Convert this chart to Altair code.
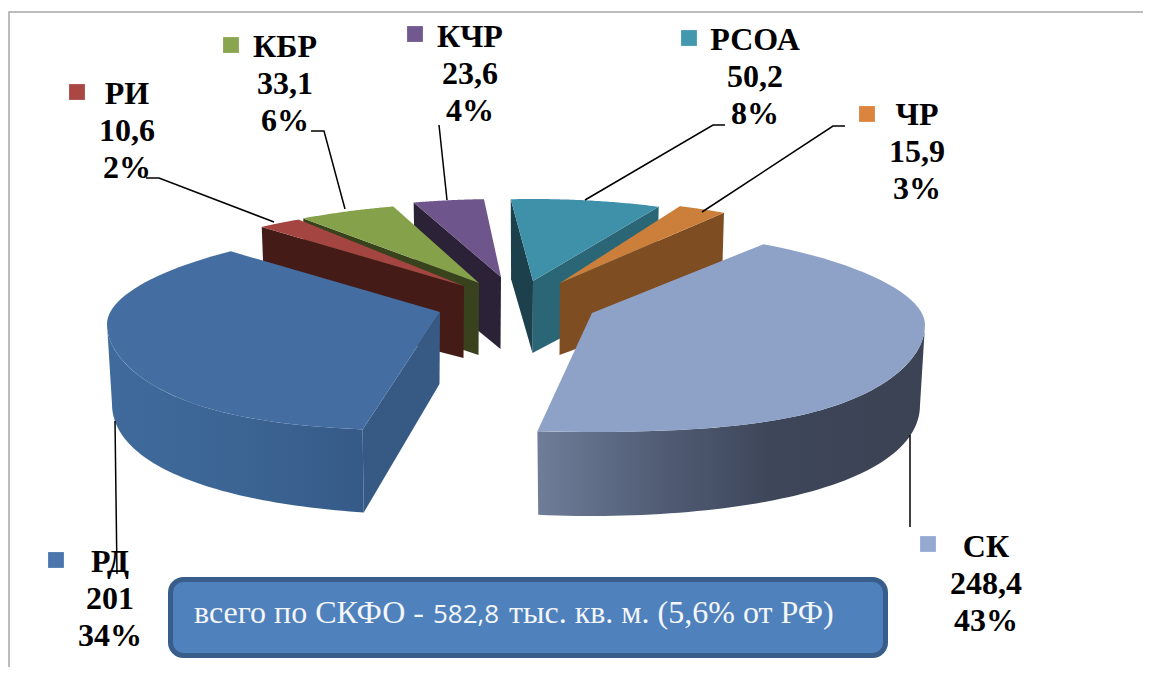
import math
import altair as alt
import pandas as pd

# ---- data ----
names = ["СК", "РД", "РИ", "КБР", "КЧР", "РСОА", "ЧР"]
values = [248.4, 201, 10.6, 33.1, 23.6, 50.2, 15.9]
value_labels = ["248,4", "201", "10,6", "33,1", "23,6", "50,2", "15,9"]
pct_labels = ["43%", "34%", "2%", "6%", "4%", "8%", "3%"]
note_parts = ["всего по СКФО - ", "582,8", "тыс. кв. м. (5,6% от РФ)"]

# ---- layout (pixel space of the picture) ----
W, H = 1151, 675
MARGIN = 8
START = 31.0
RX, RXB = 333, 328
RY_FRONT = 119
RYB_BACK, RYB_FRONT = 74, 131
DEPTH = 72

styles = {
    "СК":   dict(apex=(592, 313), w=(0, 5),      ry=84, top="#8ea2c8", key="#95a9d2", cut=[],
                 label=(986, 557), swatch=(928, 544), lead=[(910, 435), (910, 527)]),
    "РД":   dict(apex=(440, 312), w=(9, 12.5),   ry=84, top="#446da2", key="#4a76ad", cut=[(0, "#375a85")],
                 label=(110, 572), swatch=(56, 560), lead=[(115, 421), (117, 574)]),
    "РИ":   dict(apex=(464, 286), w=(14, 15),    ry=80, top="#a54542", key="#aa4643", cut=[(0, "#451b18")],
                 label=(127, 104), swatch=(77, 92), lead=[(146, 178), (159, 178), (274, 222)]),
    "КБР":  dict(apex=(479, 283), w=(13, 9.5),   ry=80, top="#85a14a", key="#89a54e", cut=[(0, "#38431d")],
                 label=(285, 57), swatch=(231, 45), lead=[(311, 131), (324, 131), (345, 209)]),
    "КЧР":  dict(apex=(501, 277), w=(9.2, 6.9),  ry=78, top="#6e558b", key="#71588f", cut=[(0, "#2c2238")],
                 label=(470, 47), swatch=(415, 34), lead=[(439, 125), (447, 200)]),
    "РСОА": dict(apex=(533, 281), w=(6, 1),      ry=82, top="#3f91aa", key="#4198af", cut=[(1, "#2a6675"), (0, "#1c404c")],
                 label=(755, 50), swatch=(689, 38), lead=[(725, 125), (713, 125), (585, 200)]),
    "ЧР":   dict(apex=(560, 283), w=(-0.1, -1.5), ry=84, top="#cc7f3a", key="#db843d", cut=[(1, "#7f4d22")],
                 label=(917, 125), swatch=(867, 114), lead=[(845, 126), (833, 126), (702, 212)]),
}
outer_walls = {
    "СК": (90, None, ["#6f7d99", "#525e76", "#3e465a", "#3b4253"], [0, 0.3, 0.6, 1]),
    "РД": (None, 270, ["#3f6a9b", "#3c6594", "#355a88"], [0, 0.5, 1]),
}
paint_order = ["РСОА", "ЧР", "СК", "КЧР", "КБР", "РИ", "РД"]
LINE_GAP = 37
FONT = "Liberation Serif"
FONT_SIZE = 32

PW, PH = W - 2 * MARGIN, H - 2 * MARGIN
x_scale = alt.Scale(domain=[MARGIN, W - MARGIN], range=[0, PW], nice=False, zero=False)
y_scale = alt.Scale(domain=[MARGIN, H - MARGIN], range=[0, PH], nice=False, zero=False)


def top_pt(apex, deg, ry_back):
    t = math.radians(deg)
    if math.cos(t) > 0:
        dy = -ry_back * math.cos(t)
    else:
        dy = -RY_FRONT * math.cos(t) + 5 * math.sin(2 * t) ** 2
    return apex[0] + RX * math.sin(t), apex[1] + 12 * math.sin(t) ** 2 + dy


def bot_pt(apex, deg, ry_back=None):
    t = math.radians(deg)
    ry = RYB_BACK if math.cos(t) > 0 else RYB_FRONT
    return apex[0] + RXB * math.sin(t), apex[1] + DEPTH + 20 * math.sin(t) ** 2 - ry * math.cos(t)


def arc(fn, apex, a, b, ry_back, steps=60):
    return [fn(apex, a + (b - a) * k / steps, ry_back) for k in range(steps + 1)]


def polygon(points, fill):
    df = pd.DataFrame({"x": [p[0] for p in points], "y": [p[1] for p in points],
                       "i": list(range(len(points)))})
    return alt.Chart(df).mark_line(fill=fill, strokeWidth=0, interpolate="linear").encode(
        x=alt.X("x:Q", scale=x_scale, axis=None),
        y=alt.Y("y:Q", scale=y_scale, axis=None),
        order="i:Q",
    )


def polyline(points, color, width):
    df = pd.DataFrame({"x": [p[0] for p in points], "y": [p[1] for p in points],
                       "i": list(range(len(points)))})
    return alt.Chart(df).mark_line(color=color, strokeWidth=width).encode(
        x=alt.X("x:Q", scale=x_scale, axis=None),
        y=alt.Y("y:Q", scale=y_scale, axis=None),
        order="i:Q",
    )


# slice angles come from the values
total = sum(values)
angles = {}
cursor = START
for n, v in zip(names, values):
    span = 360 * v / total
    s = styles[n]
    angles[n] = (cursor + s["w"][0], cursor + span + s["w"][1])
    cursor += span

layers = []
# frame
layers.append(polyline([(9, H - MARGIN), (9, 12), (W - MARGIN, 12)], "#a6a6a6", 1.5))

for n in paint_order:
    s = styles[n]
    apex = s["apex"]
    ry = s["ry"]
    a0, a1 = angles[n]
    apex_bot = (apex[0] - 0.5, apex[1] + DEPTH)
    for which, col in s["cut"]:
        ang = a0 if which == 0 else a1
        layers.append(polygon([apex, top_pt(apex, ang, ry), bot_pt(apex, ang), apex_bot], col))
    if n in outer_walls:
        lo, hi, cols, offs = outer_walls[n]
        w0 = a0 if lo is None else lo
        w1 = a1 if hi is None else hi
        pts = arc(top_pt, apex, w0, w1, ry) + arc(bot_pt, apex, w1, w0, ry)
        grad = alt.LinearGradient(
            gradient="linear", x1=0, x2=1, y1=0, y2=0,
            stops=[alt.GradientStop(color=c, offset=o) for c, o in zip(cols, offs)],
        )
        layers.append(polygon(pts, grad))
    layers.append(polygon([apex] + arc(top_pt, apex, a0, a1, ry), s["top"]))

# leader lines
for n in names:
    layers.append(polyline(styles[n]["lead"], "#000000", 1.5))

# legend swatches
sw = pd.DataFrame({"x": [styles[n]["swatch"][0] for n in names],
                   "y": [styles[n]["swatch"][1] for n in names],
                   "c": [styles[n]["key"] for n in names]})
layers.append(alt.Chart(sw).mark_square(size=250, opacity=1).encode(
    x=alt.X("x:Q", scale=x_scale, axis=None),
    y=alt.Y("y:Q", scale=y_scale, axis=None),
    color=alt.Color("c:N", scale=None),
))

# data labels
rows = []
for n, v, p in zip(names, value_labels, pct_labels):
    lx, ly = styles[n]["label"]
    for k, txt in enumerate([n, v, p]):
        rows.append({"x": lx, "y": ly + k * LINE_GAP, "t": txt})
layers.append(alt.Chart(pd.DataFrame(rows)).mark_text(
    font=FONT, fontWeight="bold", fontSize=FONT_SIZE, color="#000000",
    align="center", baseline="alphabetic",
).encode(
    x=alt.X("x:Q", scale=x_scale, axis=None),
    y=alt.Y("y:Q", scale=y_scale, axis=None),
    text="t:N",
))

# note box
box = pd.DataFrame({"x": [170.5], "x2": [885.5], "y": [579.5], "y2": [655.5]})
layers.append(alt.Chart(box).mark_rect(
    fill="#4f81bd", stroke="#385d8a", strokeWidth=5, cornerRadius=13,
).encode(
    x=alt.X("x:Q", scale=x_scale, axis=None), x2="x2:Q",
    y=alt.Y("y:Q", scale=y_scale, axis=None), y2="y2:Q",
))
note = [
    (note_parts[0], 194, FONT, 32),
    (note_parts[1], 433, "Open Sans", 26),
    (note_parts[2], 509, FONT, 32),
]
for txt, nx, fnt, size in note:
    layers.append(alt.Chart(pd.DataFrame({"x": [nx], "y": [623], "t": [txt]})).mark_text(
        font=fnt, fontSize=size, color="#f4f6fa", align="left", baseline="alphabetic",
    ).encode(
        x=alt.X("x:Q", scale=x_scale, axis=None),
        y=alt.Y("y:Q", scale=y_scale, axis=None),
        text="t:N",
    ))

chart = alt.layer(*layers).properties(
    width=PW, height=PH, padding=0, autosize=alt.AutoSizeParams(type="none"),
    background="white",
).configure_view(stroke=None)

chart.save("out.html", embed_options={"renderer": "svg", "actions": False})
